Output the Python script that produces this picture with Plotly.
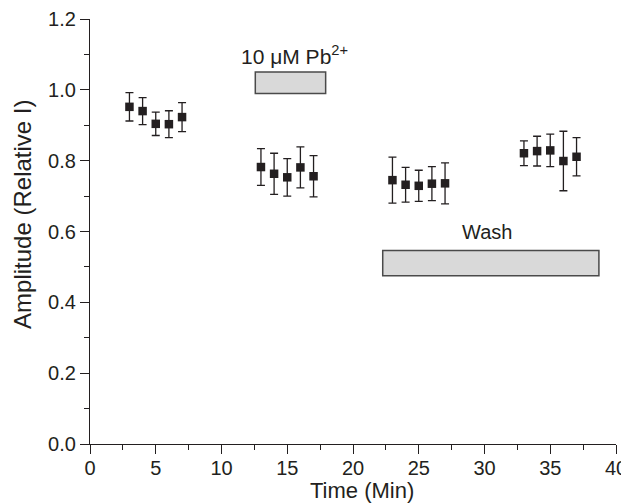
import plotly.graph_objects as go

# Data
time_min = [3, 4, 5, 6, 7, 13, 14, 15, 16, 17, 23, 24, 25, 26, 27, 33, 34, 35, 36, 37]
amplitude = [0.952, 0.940, 0.904, 0.903, 0.923,
             0.782, 0.763, 0.753, 0.781, 0.756,
             0.745, 0.732, 0.729, 0.735, 0.736,
             0.821, 0.827, 0.829, 0.799, 0.811]
error = [0.040, 0.038, 0.033, 0.038, 0.041,
         0.052, 0.058, 0.053, 0.058, 0.058,
         0.065, 0.049, 0.044, 0.048, 0.058,
         0.035, 0.042, 0.046, 0.084, 0.054]

# Treatment bars (x0, x1, y0, y1) and labels
pb_bar = [12.57, 17.92, 0.99, 1.05]
wash_bar = [22.26, 38.7, 0.475, 0.546]
pb_label = "10 \u03bcM Pb<sup>2+</sup>"
pb_label_pos = [15.56, 1.099]
wash_label = "Wash"
wash_label_pos = [30.17, 0.60]
x_title = "Time (Min)"
y_title = "Amplitude (Relative I)"

FONT = "Liberation Sans, Arial, Helvetica, sans-serif"
INK = "#231f20"

fig = go.Figure()
fig.add_trace(go.Scatter(
    x=time_min, y=amplitude, mode="markers",
    marker=dict(symbol="square", size=8.5, color=INK),
    error_y=dict(type="data", array=error, visible=True, color=INK, thickness=1.3, width=4),
    showlegend=False,
))

for b in (pb_bar, wash_bar):
    fig.add_shape(type="rect", x0=b[0], x1=b[1], y0=b[2], y1=b[3], xref="x", yref="y",
                  fillcolor="#d9d9d9", line=dict(color="#4a4a4a", width=1.5), layer="above")

fig.add_annotation(x=pb_label_pos[0], y=pb_label_pos[1], text=pb_label, showarrow=False,
                   font=dict(family=FONT, size=21, color=INK))
fig.add_annotation(x=wash_label_pos[0], y=wash_label_pos[1], text=wash_label, showarrow=False,
                   font=dict(family=FONT, size=20, color=INK))
# axis titles as annotations (placed like the reference)
fig.add_annotation(xref="paper", yref="paper", x=0.517, y=0, yshift=-46, yanchor="middle",
                   text=x_title, showarrow=False, font=dict(family=FONT, size=22, color=INK))
fig.add_annotation(xref="paper", yref="paper", x=0, xshift=-67, xanchor="center",
                   y=0.539, yanchor="middle", textangle=-90,
                   text=y_title, showarrow=False, font=dict(family=FONT, size=24, color=INK))

axis_common = dict(showline=True, linecolor=INK, linewidth=1.3, ticks="outside", ticklen=9,
                   tickwidth=1.3, tickcolor=INK, showgrid=False, zeroline=False,
                   tickfont=dict(family=FONT, size=20, color=INK), automargin=False,
                   ticklabeloverflow="allow")

fig.update_xaxes(range=[0, 40], dtick=5, tick0=0, ticklabelstandoff=-3,
                 minor=dict(ticks="outside", ticklen=5, dtick=2.5, tick0=0, tickcolor=INK, tickwidth=1.3),
                 **axis_common)
fig.update_yaxes(range=[0, 1.2], dtick=0.2, tick0=0, tickformat=".1f",
                 minor=dict(ticks="outside", ticklen=5, dtick=0.1, tick0=0, tickcolor=INK, tickwidth=1.3),
                 **axis_common)

# page body adds an 8px margin; figure is sized to fill the remaining window
fig.update_layout(width=621, height=495, margin=dict(l=82, r=13, t=11, b=59),
                  plot_bgcolor="white", paper_bgcolor="white",
                  font=dict(family=FONT, color=INK))

fig.write_html("out.html")
